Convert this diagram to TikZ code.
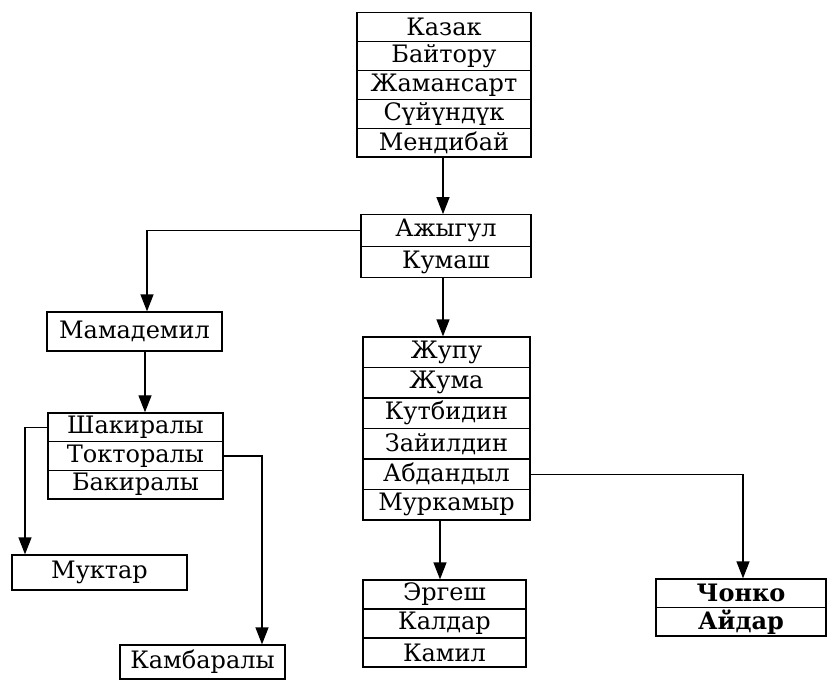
\documentclass[tikz,border=0pt]{standalone}
\usepackage{fontspec}
\setmainfont{DejaVu Serif}
\usetikzlibrary{arrows.meta}
\begin{document}
\begin{tikzpicture}[x=1pt,y=-1pt,
  cell/.style={draw, line width=1.3pt, inner sep=0pt, font=\fontsize{24}{26}\selectfont},
  link/.style={line width=1.3pt, -{Triangle[width=13pt,length=17pt]}}]
\useasboundingbox (0,0) rectangle (829,680);
\fill[white] (0,0) rectangle (829,680);
% top box
\begin{scope}[every node/.style={cell, minimum width=174pt, minimum height=28.9pt}]
\node (kaz) at (444,27) {Казак};
\node (bai) at (444,55.9) {Байтору};
\node (zham) at (444,84.8) {Жамансарт};
\node (suy) at (444,113.7) {Сүйүндүк};
\node (men) at (444,142.6) {Мендибай};
\end{scope}
% Ajygul box
\begin{scope}[every node/.style={cell, minimum width=170pt, minimum height=31.5pt}]
\node (ajy) at (446,230.5) {Ажыгул};
\node (kum) at (446,262) {Кумаш};
\end{scope}
% Mamademil
\node[cell, minimum width=175pt, minimum height=39pt] (mam) at (134.5,331.5) {Мамадемил};
% Shakiraly box
\begin{scope}[every node/.style={cell, minimum width=175pt, minimum height=28.7pt}]
\node (shak) at (135.5,427.3) {Шакиралы};
\node (tok) at (135.5,456) {Токторалы};
\node (bak) at (135.5,484.7) {Бакиралы};
\end{scope}
% Muktar
\node[cell, minimum width=175pt, minimum height=35pt] (muk) at (99.5,572.5) {Муктар};
% Kambaraly
\node[cell, minimum width=165pt, minimum height=34pt] (kamb) at (202.5,662) {Камбаралы};
% Zhupu box
\begin{scope}[every node/.style={cell, minimum width=167pt, minimum height=30.5pt}]
\node (zhup) at (446.5,352.25) {Жупу};
\node (zhum) at (446.5,382.75) {Жума};
\node (kut) at (446.5,413.25) {Кутбидин};
\node (zai) at (446.5,443.75) {Зайилдин};
\node (abd) at (446.5,474.25) {Абдандыл};
\node (murk) at (446.5,504.75) {Муркамыр};
\end{scope}
% Ergesh box
\begin{scope}[every node/.style={cell, minimum width=163pt, minimum height=29pt}]
\node (erg) at (444.5,594.5) {Эргеш};
\node (kal) at (444.5,623.5) {Калдар};
\node (kam) at (444.5,652.5) {Камил};
\end{scope}
% Chonko box
\begin{scope}[every node/.style={cell, minimum width=170pt, minimum height=28.5pt, font=\fontsize{24}{26}\selectfont\bfseries}]
\node (chon) at (741,593.25) {Чонко};
\node (aid) at (741,621.75) {Айдар};
\end{scope}
% connectors
\draw[link] ([xshift=-1pt]men.south) -- ([xshift=-3pt]ajy.north);
\draw[link] (ajy.west) -| ([xshift=12.5pt]mam.north);
\draw[link] ([xshift=-3pt]kum.south) -- ([xshift=-3.5pt]zhup.north);
\draw[link] ([xshift=10.5pt]mam.south) -- ([xshift=9.5pt]shak.north);
\draw[link] (shak.west) -| ([xshift=-74.5pt]muk.north);
\draw[link] (tok.east) -| ([xshift=59.5pt]kamb.north);
\draw[link] ([xshift=-6.5pt]murk.south) -- ([xshift=-4.5pt]erg.north);
\draw[link] (abd.east) -| ([xshift=2pt]chon.north);
\end{tikzpicture}
\end{document}
